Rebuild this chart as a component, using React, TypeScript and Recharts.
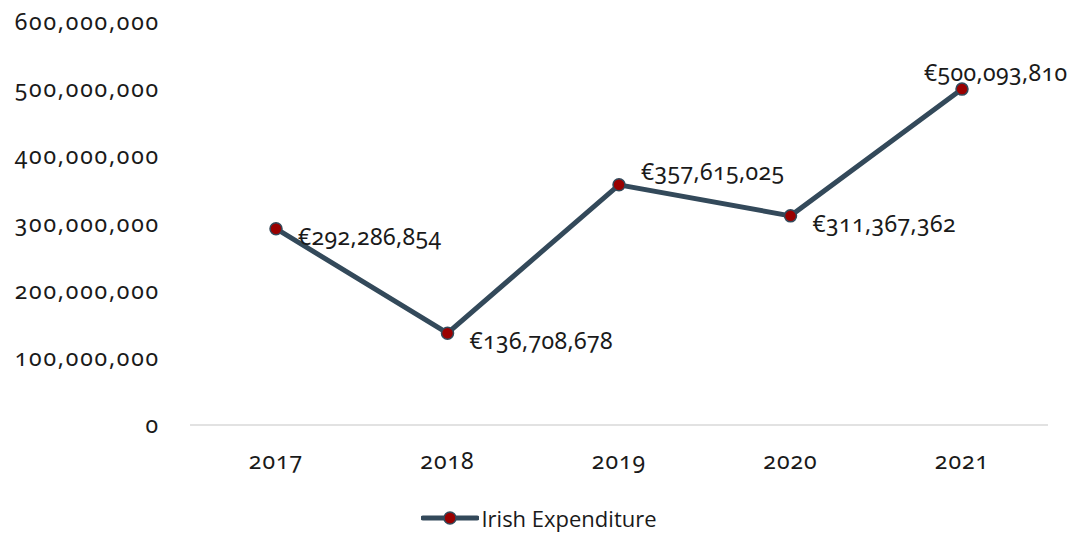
import { LineChart, Line, XAxis, YAxis, Legend, LabelList } from "recharts";

const years = ["2017", "2018", "2019", "2020", "2021"];
const expenditure = [292286854, 136708678, 357615025, 311367362, 500093810];
const yTicks = [0, 100000000, 200000000, 300000000, 400000000, 500000000, 600000000];

const data = years.map((year, i) => ({ year, value: expenditure[i] }));

const LINE = "#33495a";
const DOT = "#9a0000";
const FONT = "'Noto Sans', 'Open Sans', sans-serif";

// where Excel put each data label relative to its point
const labelPlacement = ["right", "right", "aboveRight", "right", "above"];

const fmtNum = (v: number) => v.toLocaleString("en-US");

function PointLabel(props: any) {
  const { x, y, value, index } = props;
  const place = labelPlacement[index];
  let dx = 22;
  let dy = 7;
  if (place === "aboveRight") dy = -14;
  if (place === "above") {
    dx = -38;
    dy = -17;
  }
  return (
    <text
      x={x + dx}
      y={y + dy}
      dominantBaseline="central"
      fontSize={23}
      fontFamily={FONT}
      fill="#1a1a1a"
      style={{ fontFeatureSettings: "'onum' 1", letterSpacing: 0.4 }}
    >
      {"€" + fmtNum(value)}
    </text>
  );
}

function LegendContent() {
  return (
    <div style={{ display: "flex", justifyContent: "center", alignItems: "center", width: 1078 }}>
      <svg width={58} height={14} style={{ marginRight: 2 }}>
        <line x1={2} y1={7} x2={56} y2={7} stroke={LINE} strokeWidth={5} strokeLinecap="round" />
        <circle cx={29} cy={7} r={6} fill={DOT} stroke={LINE} strokeWidth={1.5} />
      </svg>
      <span style={{ fontFamily: "'Open Sans', sans-serif", fontSize: 22, color: "#1a1a1a" }}>
        Irish Expenditure
      </span>
    </div>
  );
}

export default function App() {
  return (
    <div style={{ position: "absolute", left: 0, top: 0, background: "#fff" }}>
      <LineChart width={1078} height={536} data={data} margin={{ top: 22, right: 30, left: 0, bottom: 0 }}>
        <XAxis
          dataKey="year"
          axisLine={{ stroke: "#d9d9d9", strokeWidth: 1.5 }}
          tickLine={false}
          tickSize={0}
          tickMargin={28}
          height={62}
          padding={{ left: 86, right: 86 }}
          tick={{
            fill: "#1a1a1a",
            fontSize: 23,
            fontFamily: FONT,
            style: { fontFeatureSettings: "'onum' 1", letterSpacing: 1 },
          }}
        />
        <YAxis
          domain={[0, 600000000]}
          ticks={yTicks}
          axisLine={false}
          tickLine={false}
          tickSize={0}
          tickMargin={30}
          width={190}
          tickFormatter={fmtNum}
          tick={{
            fill: "#1a1a1a",
            fontSize: 23,
            fontFamily: FONT,
            style: { fontFeatureSettings: "'onum' 1", letterSpacing: 1.8 },
          }}
        />
        <Legend
          verticalAlign="bottom"
          height={49}
          content={<LegendContent />}
          wrapperStyle={{ left: 0, width: 1078, top: 503 }}
        />
        <Line
          dataKey="value"
          name="Irish Expenditure"
          stroke={LINE}
          strokeWidth={5}
          dot={{ r: 6, fill: DOT, stroke: LINE, strokeWidth: 1.5 }}
          activeDot={false}
          isAnimationActive={false}
        >
          <LabelList dataKey="value" content={<PointLabel />} />
        </Line>
      </LineChart>
    </div>
  );
}
